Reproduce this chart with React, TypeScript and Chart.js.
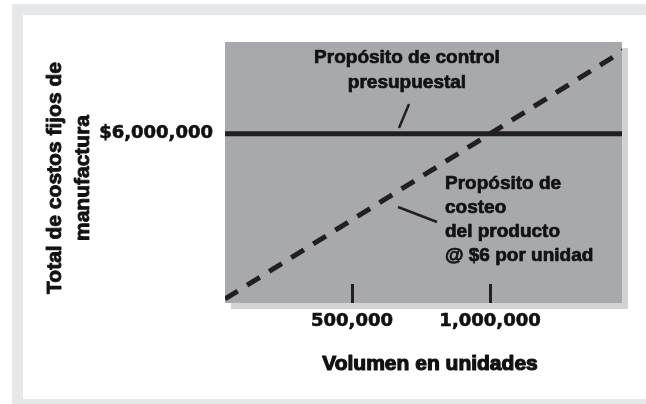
import { useEffect, useRef } from "react";
import { Chart, registerables } from "chart.js";

Chart.register(...registerables);

// ---- data ----
const volumeUnits = [0, 1500000];
const budgetFixedCost = [6000000, 6000000];
const productCostApplied = [0, 9000000];
const xRange = [40000, 1478000];
const yRange = [100000, 9200000];
const xTickValues = [500000, 1000000];
const xTickLabels = ["500,000", "1,000,000"];
const yTickValues = [6000000];
const yTickLabels = ["$6,000,000"];
const yTitleLines = ["Total de costos fijos de", "manufactura"];
const xTitle = "Volumen en unidades";
const budgetNote = ["Propósito de control", "presupuestal"];
const costNote = ["Propósito de", "costeo", "del producto", "@ $6 por unidad"];

const INK = "#111111";
const LINE_INK = "#231f20";
const PLOT_BG = "#a7a9ac";
const SHADOW = "#d1d3d4";
const FRAME = "#e6e7e8";
const TEXT_FONT = '"Liberation Sans", Arial, sans-serif';
const NUM_FONT = '"DejaVu Sans", sans-serif';

function heavyText(ctx: CanvasRenderingContext2D, t: string, x: number, y: number, w: number) {
  ctx.lineWidth = w;
  ctx.lineJoin = "round";
  ctx.strokeText(t, x, y);
  ctx.fillText(t, x, y);
}

const decorPlugin = {
  id: "decor",
  beforeDraw(chart: any) {
    const { ctx, chartArea: ca, width, height } = chart;
    ctx.save();
    ctx.fillStyle = "#ffffff";
    ctx.fillRect(0, 0, width, height);
    ctx.fillStyle = FRAME;
    ctx.fillRect(12, 4, width - 12, height - 4);
    ctx.fillStyle = "#ffffff";
    ctx.fillRect(23, 15, width - 23, 384);
    ctx.fillStyle = SHADOW;
    ctx.fillRect(ca.left + 6, ca.top + 6, ca.right - ca.left, ca.bottom - ca.top);
    ctx.fillStyle = PLOT_BG;
    ctx.fillRect(ca.left, ca.top, ca.right - ca.left, ca.bottom - ca.top);
    ctx.restore();
  },
  afterDatasetsDraw(chart: any) {
    const { ctx, chartArea: ca, scales } = chart;
    const xs = scales.x;
    ctx.save();
    ctx.strokeStyle = LINE_INK;
    ctx.fillStyle = INK;
    // inner tick marks
    ctx.lineWidth = 3;
    xTickValues.forEach((v) => {
      const px = Math.round(xs.getPixelForValue(v)) + 0.5;
      ctx.beginPath();
      ctx.moveTo(px, ca.bottom - 19);
      ctx.lineTo(px, ca.bottom);
      ctx.stroke();
    });
    // pointer lines
    ctx.lineWidth = 2.5;
    ctx.beginPath();
    ctx.moveTo(ca.left + 184, ca.top + 62);
    ctx.lineTo(ca.left + 174, ca.top + 86);
    ctx.stroke();
    ctx.beginPath();
    ctx.moveTo(ca.left + 173, ca.top + 165);
    ctx.lineTo(ca.left + 212, ca.top + 180);
    ctx.stroke();
    // notes
    ctx.strokeStyle = INK;
    ctx.font = `bold 19px ${TEXT_FONT}`;
    ctx.textBaseline = "alphabetic";
    ctx.textAlign = "center";
    budgetNote.forEach((t, i) => heavyText(ctx, t, ca.left + 182, ca.top + 21 + i * 25, 0.7));
    ctx.textAlign = "left";
    costNote.forEach((t, i) => heavyText(ctx, t, ca.left + 220, ca.top + 147 + i * 24, 0.7));
    // axis titles
    ctx.font = `bold 21px ${TEXT_FONT}`;
    ctx.textAlign = "center";
    ctx.textBaseline = "middle";
    heavyText(ctx, xTitle, 430, 364, 1.2);
    ctx.save();
    ctx.translate(55, 178);
    ctx.rotate(-Math.PI / 2);
    yTitleLines.forEach((t, i) => heavyText(ctx, t, 0, i * 28, 0.9));
    ctx.restore();
    ctx.restore();
  },
};

export default function App() {
  const ref = useRef<HTMLCanvasElement>(null);
  useEffect(() => {
    document.body.style.margin = "0";
    const canvas = ref.current!;
    const chart = new Chart(canvas, {
      type: "scatter",
      data: {
        datasets: [
          {
            label: "Propósito de control presupuestal",
            data: volumeUnits.map((v, i) => ({ x: v, y: budgetFixedCost[i] })),
            showLine: true,
            borderColor: LINE_INK,
            borderWidth: 5,
            pointRadius: 0,
            clip: 0,
          } as any,
          {
            label: "Propósito de costeo del producto",
            data: volumeUnits.map((v, i) => ({ x: v, y: productCostApplied[i] })),
            showLine: true,
            borderColor: LINE_INK,
            borderWidth: 5,
            borderDash: [15, 11],
            borderDashOffset: 13,
            borderCapStyle: "butt",
            pointRadius: 0,
            clip: 0,
          } as any,
        ],
      },
      options: {
        responsive: false,
        animation: false,
        events: [],
        layout: { padding: { top: 42, right: 24, bottom: 0, left: 0 } },
        plugins: { legend: { display: false }, tooltip: { enabled: false } },
        scales: {
          x: {
            type: "linear",
            min: xRange[0],
            max: xRange[1],
            grid: { display: false, drawTicks: false },
            border: { display: false },
            afterBuildTicks: (s: any) => {
              s.ticks = xTickValues.map((v) => ({ value: v }));
            },
            afterFit: (s: any) => {
              s.height = 101;
            },
            ticks: {
              autoSkip: false,
              maxRotation: 0,
              padding: 8,
              color: INK,
              textStrokeColor: INK,
              textStrokeWidth: 0.6,
              font: { family: NUM_FONT, size: 18, weight: "bold" },
              callback: (v: any) => xTickLabels[xTickValues.indexOf(Number(v))] ?? "",
            },
          } as any,
          y: {
            type: "linear",
            min: yRange[0],
            max: yRange[1],
            grid: { display: false, drawTicks: false },
            border: { display: false },
            afterBuildTicks: (s: any) => {
              s.ticks = yTickValues.map((v) => ({ value: v }));
            },
            afterFit: (s: any) => {
              s.width = 225;
            },
            ticks: {
              autoSkip: false,
              padding: 12,
              color: INK,
              textStrokeColor: INK,
              textStrokeWidth: 0.6,
              font: { family: NUM_FONT, size: 18, weight: "bold" },
              callback: (v: any) => yTickLabels[yTickValues.indexOf(Number(v))] ?? "",
            },
          } as any,
        },
      },
      plugins: [decorPlugin],
    });
    return () => chart.destroy();
  }, []);
  return <canvas ref={ref} width={646} height={404} style={{ display: "block" }} />;
}
